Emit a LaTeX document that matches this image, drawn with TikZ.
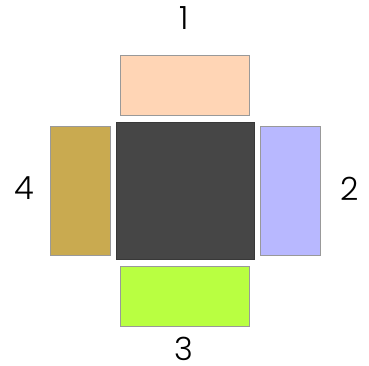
\documentclass[tikz,border=0pt]{standalone}
\usepackage{fontspec}
\setmainfont{Poppins}[UprightFont=* Light]
\definecolor{peach}{RGB}{255,213,181}
\definecolor{lavender}{RGB}{184,184,255}
\definecolor{ochre}{RGB}{201,170,80}
\definecolor{lime}{RGB}{185,255,65}
\definecolor{slate}{RGB}{70,70,70}
\begin{document}
\begin{tikzpicture}[x=1pt,y=-1pt,
    box/.style={draw=black!40, line width=0.6pt, inner sep=0pt},
    wide/.style={box, minimum width=129pt, minimum height=60pt},
    tall/.style={box, minimum width=60pt, minimum height=129pt},
    digit/.style={inner sep=0pt, font=\fontsize{32}{38}\selectfont}]
    \useasboundingbox (0,0) rectangle (369,366);

    % Carré central
    \node[box, fill=slate, draw=slate!80!black, minimum width=138pt, minimum height=137pt] (centre) at (185,190.5) {};

    % Rectangles autour
    \node[wide, fill=peach] (haut) at (184.5,85) {};
    \node[tall, fill=lavender] (droite) at (290,190.5) {};
    \node[wide, fill=lime] (bas) at (184.5,296) {};
    \node[tall, fill=ochre] (gauche) at (80,190.5) {};

    % Numéros
    \node[digit] (n1) at (184,18.5) {1};
    \node[digit] (n2) at (350,189) {2};
    \node[digit] (n3) at (184,349) {3};
    \node[digit] (n4) at (24,188) {4};
\end{tikzpicture}
\end{document}
